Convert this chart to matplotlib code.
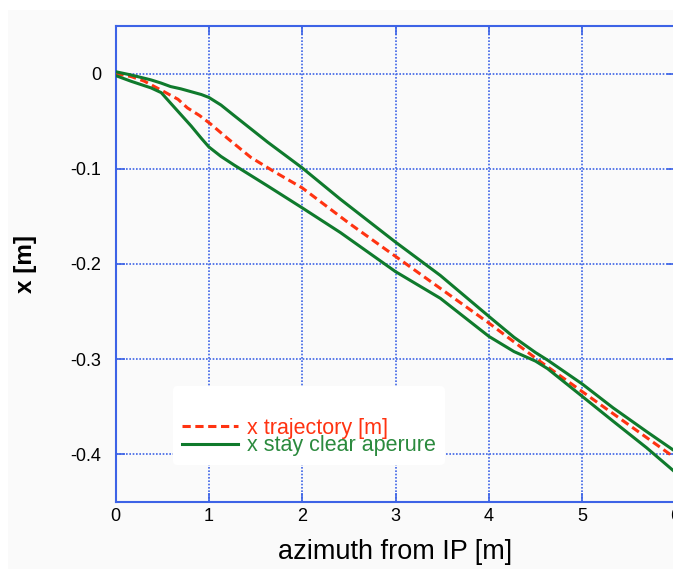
import matplotlib
matplotlib.use("Agg")
import matplotlib.pyplot as plt
from matplotlib.patches import Rectangle

# ---- data ----
traj_s = [0, 0.165, 0.31, 0.52, 0.67, 0.77, 0.9, 1.02, 1.2, 1.45, 1.7, 2.0, 2.5, 3.0, 3.5, 4.0,
          4.53, 5.0, 5.5, 6.0]
traj_x = [0.0, -0.003, -0.008, -0.019, -0.027, -0.036, -0.044, -0.053, -0.068, -0.088, -0.103,
          -0.120, -0.157, -0.192, -0.227, -0.262, -0.301, -0.334, -0.369, -0.404]

ap_s = [0, 0.165, 0.38, 0.49, 0.59, 0.7, 0.81, 0.92, 1.0, 1.13, 1.27, 1.45, 1.63, 2.0, 2.41,
        3.0, 3.48, 4.0, 4.27, 4.5, 4.63, 5.0, 5.33, 5.69, 6.0]
ap_upper = [0.002, -0.0014, -0.0066, -0.010, -0.0136, -0.016, -0.019, -0.022, -0.025, -0.033,
            -0.044, -0.058, -0.072, -0.099, -0.132, -0.177, -0.212, -0.255, -0.277, -0.293,
            -0.301, -0.326, -0.351, -0.376, -0.397]
ap_lower = [-0.002, -0.008, -0.015, -0.020, -0.031, -0.043, -0.055, -0.068, -0.077, -0.087,
            -0.096, -0.107, -0.118, -0.141, -0.167, -0.208, -0.236, -0.276, -0.292, -0.302,
            -0.310, -0.339, -0.365, -0.393, -0.419]

x_ticks = [0, 1, 2, 3, 4, 5, 6]
y_ticks = [0, -0.1, -0.2, -0.3, -0.4]
y_tick_labels = ["0", "-0.1", "-0.2", "-0.3", "-0.4"]

RED = "#ff3311"
GREEN = "#0f7a2c"
GREEN_TXT = "#2b8a3e"
BLUE = "#3d63e6"

plt.rcParams['font.family'] = ['Liberation Sans', 'DejaVu Sans']

W, H = 673, 569
fig = plt.figure(figsize=(W / 100, H / 100), dpi=100, facecolor="#fafafa")
# white strips at top/left edges of the reference image
fig.add_artist(Rectangle((0, 1 - 10 / H), 1, 10 / H, transform=fig.transFigure,
                         facecolor="white", edgecolor="none", zorder=-10))
fig.add_artist(Rectangle((0, 0), 8 / W, 1, transform=fig.transFigure,
                         facecolor="white", edgecolor="none", zorder=-10))

ax = fig.add_axes([115.5 / W, 1 - 502 / H, 560 / W, 476 / H])
ax.set_facecolor("#fafafa")

ax.plot(traj_s, traj_x, color=RED, lw=2.2, dashes=(2.7, 1.5), label="x trajectory [m]", zorder=3)
ax.plot(ap_s, ap_upper, color=GREEN, lw=2.2, label="x stay clear aperure", zorder=3)
ax.plot(ap_s, ap_lower, color=GREEN, lw=2.2, zorder=3)

ax.set_xlim(0, 6)
ax.set_ylim(-0.45, 0.05)
ax.set_xticks(x_ticks)
ax.set_yticks(y_ticks)
ax.set_yticklabels(y_tick_labels)

ax.grid(True, color=BLUE, linestyle=(0, (1, 1)), lw=1.2)
for sp in ax.spines.values():
    sp.set_color(BLUE)
    sp.set_linewidth(1.5)
ax.tick_params(axis='both', direction='in', length=6.5, width=1.2, color=BLUE,
               top=True, right=True, labelsize=13, labelcolor='black')
ax.tick_params(axis='y', pad=10.5)
ax.tick_params(axis='x', pad=4.5)

ax.set_xlabel("azimuth from IP [m]", fontsize=19.5, labelpad=10)
ax.set_ylabel("x [m]", fontsize=17.5, fontweight='bold', labelpad=24)

leg = ax.legend(loc='lower left', bbox_to_anchor=((173 - 115.5) / 560, (502 - 465) / 476),
                fontsize=15.5, frameon=True, facecolor='white', edgecolor='none', framealpha=1,
                handlelength=2.6, handletextpad=0.45, labelspacing=-0.15, borderpad=0.4,
                borderaxespad=0, title=" ", title_fontsize=20)
leg.set_zorder(5)
texts = leg.get_texts()
texts[0].set_color(RED)
texts[1].set_color(GREEN_TXT)

fig.savefig("out.png", dpi=100, facecolor=fig.get_facecolor())
